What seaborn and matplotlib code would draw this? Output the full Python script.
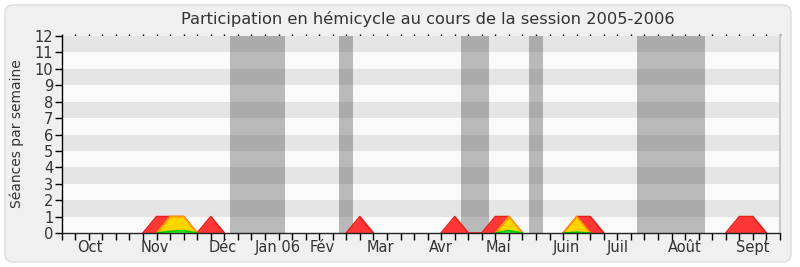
import matplotlib
matplotlib.use("Agg")
import matplotlib.pyplot as plt
from matplotlib.patches import FancyBboxPatch
import seaborn as sns
import pandas as pd

# Weekly counts over the 2005-2006 session (week 0 = start of October)
weeks = list(range(54))
seances = [0, 0, 0, 0, 0, 0, 0, 1, 1, 1,
           0, 1, 0, 0, 0, 0, 0, 0, 0, 0,
           0, 0, 1, 0, 0, 0, 0, 0, 0, 1,
           0, 0, 1, 1, 0, 0, 0, 0, 1, 1,
           0, 0, 0, 0, 0, 0, 0, 0, 0, 0,
           1, 1, 0, 0]
interventions = [0, 0, 0, 0, 0, 0, 0, 0, 1, 1,
                 0, 0, 0, 0, 0, 0, 0, 0, 0, 0,
                 0, 0, 0, 0, 0, 0, 0, 0, 0, 0,
                 0, 0, 0, 1, 0, 0, 0, 0, 1, 0,
                 0, 0, 0, 0, 0, 0, 0, 0, 0, 0,
                 0, 0, 0, 0]
questions = [0, 0, 0, 0, 0, 0, 0, 0, 0.1, 0.15,
             0, 0, 0, 0, 0, 0, 0, 0, 0, 0,
             0, 0, 0, 0, 0, 0, 0, 0, 0, 0,
             0, 0, 0, 0.15, 0, 0, 0, 0, 0.05, 0,
             0, 0, 0, 0, 0, 0, 0, 0, 0, 0,
             0, 0, 0, 0]

# Parliamentary recess periods (in weeks)
vacances_debut = [12.45, 20.45, 29.45, 34.45, 42.45]
vacances_fin = [16.5, 21.5, 31.5, 35.5, 47.5]

# Month labels
mois = ["Oct", "Nov", "Déc", "Jan 06", "Fév", "Mar", "Avr", "Mai",
        "Juin", "Juil", "Août", "Sept"]
mois_pos = [2.1, 6.9, 11.9, 15.95, 19.2, 23.5, 28.0, 32.2,
            37.2, 41.0, 46.0, 51.0]

df = pd.DataFrame({"semaine": weeks, "seances": seances,
                   "interventions": interventions, "questions": questions})


def bumps(col):
    """Long-form table of the non-zero stretches of a series, one unit per bump."""
    vals = df[col].tolist()
    n = len(vals)
    keep = [vals[i] > 0 or (i > 0 and vals[i - 1] > 0) or (i < n - 1 and vals[i + 1] > 0)
            for i in range(n)]
    rows, seg = [], 0
    for i in range(n):
        if keep[i]:
            if i == 0 or not keep[i - 1]:
                seg += 1
            rows.append({"semaine": weeks[i], "valeur": vals[i], "bump": seg})
    return pd.DataFrame(rows)


sns.set_style("white")
plt.rcParams["font.family"] = ["DejaVu Sans"]

fig = plt.figure(figsize=(8, 2.67), dpi=100, facecolor="white")
panel = FancyBboxPatch((0.05, 0.05), 7.86, 2.57,
                       boxstyle="round,pad=0,rounding_size=0.08",
                       transform=fig.dpi_scale_trans, facecolor="#f0f0f0",
                       edgecolor="#dddddd", linewidth=1.0, zorder=-10)
fig.patches.append(panel)

ax = fig.add_axes([61.7 / 800, 1 - 233 / 267, (780 - 61.7) / 800, (233 - 36) / 267])
ax.set_zorder(1)
ax.set_facecolor("#fafafa")

# horizontal stripes
for k in range(1, 12, 2):
    ax.axhspan(k, k + 1, color="#e5e5e5", lw=0, zorder=0.5)

# recess bands
for d, f in zip(vacances_debut, vacances_fin):
    ax.axvspan(d, f, color="#373737", alpha=0.333, lw=0, zorder=1)

series = [("seances", "#ff3636", "#e8201a"),
          ("interventions", "#ffd400", "#ff9a00"),
          ("questions", "#33ee33", "#00cc00")]
for i, (col, fc, ec) in enumerate(series):
    ax.fill_between(df["semaine"], 0, df[col], color=fc, lw=0, zorder=2 + i * 0.1)
    b = bumps(col)
    sns.lineplot(data=b, x="semaine", y="valeur", units="bump", estimator=None,
                 ax=ax, color=ec, lw=1.2, zorder=2.05 + i * 0.1)

ax.set_xlim(0, 53)
ax.set_ylim(0, 12)
ax.set_xlabel("")
ax.set_ylabel("")

ax.set_yticks(range(13))
ax.tick_params(axis="y", direction="out", length=5, width=1, color="black",
               labelsize=10.5, labelcolor="#333333", pad=1, left=True)

ax.xaxis.remove_overlapping_locs = False
ax.set_xticks(weeks)
ax.set_xticklabels([])
ax.tick_params(axis="x", which="major", direction="out", length=5, width=1,
               color="black", bottom=True)
ax.set_xticks(mois_pos, minor=True)
ax.set_xticklabels(mois, minor=True)
ax.tick_params(axis="x", which="minor", length=0, pad=5, labelsize=10.5,
               labelcolor="#333333")

top = ax.secondary_xaxis("top")
top.set_xticks(weeks)
top.set_xticklabels([])
top.tick_params(direction="out", length=1.5, width=1, color="black")
top.spines["top"].set_visible(False)

ax.spines["top"].set_visible(False)
ax.spines["left"].set_color("black")
ax.spines["left"].set_linewidth(1)
ax.spines["bottom"].set_color("#222222")
ax.spines["bottom"].set_linewidth(1)
ax.spines["bottom"].set_zorder(3)
ax.spines["right"].set_color("#c8c8c8")
ax.spines["right"].set_linewidth(1.5)

fig.text(0.535, 1 - 19 / 267, "Participation en hémicycle au cours de la session 2005-2006",
         ha="center", va="center", fontsize=11.7, color="#333333")
fig.text(0.021, 0.498, "Séances par semaine", rotation=90, ha="center",
         va="center", fontsize=10, color="#333333")

fig.savefig("out.png", dpi=100, facecolor="white")
